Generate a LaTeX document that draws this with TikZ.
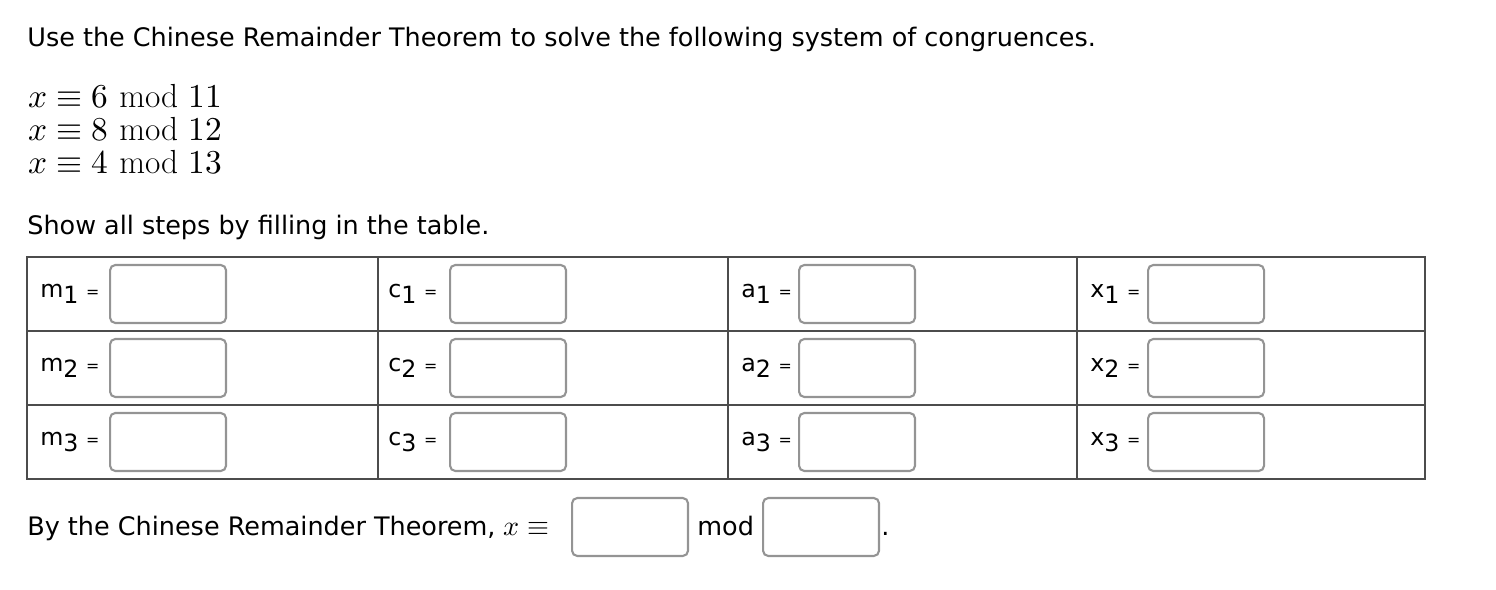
\documentclass[tikz,border=0pt]{standalone}
\usepackage{fontspec}
\setmainfont{DejaVu Sans}
\newfontfamily\lmr{Latin Modern Roman}
\usepackage{amsmath}
\usepackage{unicode-math}
\setmathfont{Latin Modern Math}
\newcommand{\sbx}[1]{\raisebox{-0.45ex}{#1}}
\newcommand{\md}{\text{\lmr mod}}
\begin{document}
\begin{tikzpicture}[x=0.02cm,y=-0.02cm,
  box/.style={draw=black!42,line width=1.2pt,rounded corners=3pt,minimum width=2.32cm,minimum height=1.16cm,inner sep=0pt,anchor=west},
  lab/.style={anchor=west,inner sep=0pt,font=\fontsize{13.5}{15}\selectfont},
  txt/.style={anchor=base west,inner sep=0pt,font=\fontsize{14.5}{17}\selectfont},
  eq/.style={anchor=base west,inner sep=0pt,font=\fontsize{19}{21}\selectfont}]
\useasboundingbox (0,0) rectangle (1496,590);
\node[txt] (t1) at (27,47) {Use the Chinese Remainder Theorem to solve the following system of congruences.};
\node[eq] (e1) at (28,108) {$x\equiv 6\ \md\ 11$};
\node[eq] (e2) at (28,141) {$x\equiv 8\ \md\ 12$};
\node[eq] (e3) at (28,174) {$x\equiv 4\ \md\ 13$};
\node[txt] (t2) at (27,235) {Show all steps by filling in the table.};
\draw[black!70,line width=1pt] (27,257) rectangle (1425,479);
\foreach \y in {331,405} \draw[black!70,line width=1pt] (27,\y) -- (1425,\y);
\foreach \x in {378,728,1077} \draw[black!70,line width=1pt] (\x,257) -- (\x,479);
\foreach \r/\yy in {1/294,2/368,3/442}{
  \node[lab] (m\r) at (40,\yy) {m\sbx{\r} {\small =}};
  \node[box] (bm\r) at (109,\yy) {};
  \node[lab] (c\r) at (388,\yy) {c\sbx{\r} {\small =}};
  \node[box] (bc\r) at (449,\yy) {};
  \node[lab] (a\r) at (741,\yy) {a\sbx{\r} {\small =}};
  \node[box] (ba\r) at (798,\yy) {};
  \node[lab] (x\r) at (1090,\yy) {x\sbx{\r} {\small =}};
  \node[box] (bx\r) at (1147,\yy) {};
}
\node[txt] (t3) at (27,535) {By the Chinese Remainder Theorem, {\fontsize{16}{18}\selectfont$x\equiv$}};
\node[box] (b1) at (571,527) {};
\node[txt] (t4) at (697,535) {mod};
\node[box] (b2) at (762,527) {};
\node[txt] (t5) at (881,535) {.};
\end{tikzpicture}
\end{document}
